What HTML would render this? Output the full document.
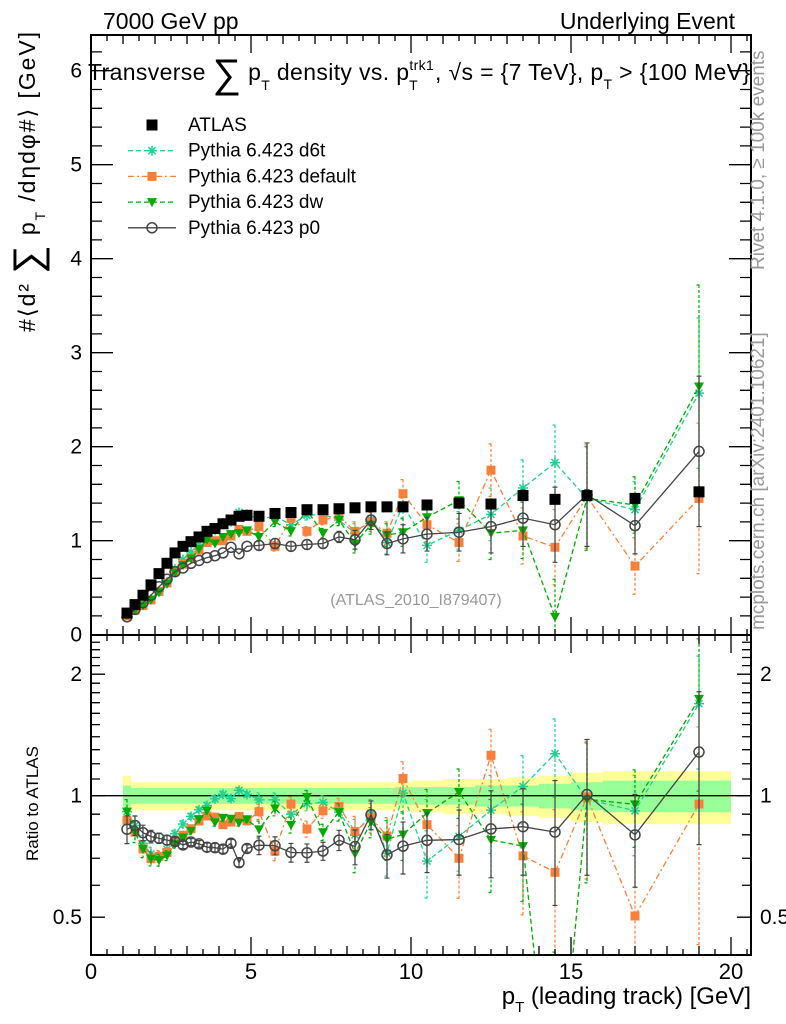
<!DOCTYPE html>
<html><head><meta charset="utf-8"><style>
html,body{margin:0;padding:0;background:#fff;overflow:hidden;width:786px;height:1024px;}
svg{display:block;font-family:"Liberation Sans",sans-serif;}
</style></head><body>
<svg id="chart" width="786" height="1024" viewBox="0 0 786 1024" xmlns="http://www.w3.org/2000/svg">
<defs>
<clipPath id="clipMain"><rect x="91" y="35" width="660" height="600"/></clipPath>
<clipPath id="clipRatio"><rect x="91" y="635" width="660" height="320"/></clipPath>
</defs>
<text x="103" y="29" font-size="23">7000 GeV pp</text>
<text x="735" y="29" font-size="23" text-anchor="end">Underlying Event</text>
<g id="bands" clip-path="url(#clipRatio)"></g>
<g id="marks"></g>
<g id="axes"></g>
<text x="88" y="80" font-size="23" textLength="662" lengthAdjust="spacing">Transverse <tspan font-size="40" dy="7">∑</tspan><tspan dy="-7"> p</tspan><tspan font-size="14" dy="10">T</tspan><tspan dy="-10"> density vs. p</tspan><tspan font-size="14" dy="-10">trk1</tspan><tspan font-size="14" dx="-25" dy="20">T</tspan><tspan dx="17" dy="-10">, √s = {7 TeV}, p</tspan><tspan font-size="14" dy="9">T</tspan><tspan dy="-9"> &gt; {100 MeV}</tspan></text>
<text transform="translate(35,332) rotate(-90)" font-size="23" textLength="300" lengthAdjust="spacing">#⟨d² <tspan font-size="40" dy="6">∑</tspan><tspan dy="-6"> p</tspan><tspan font-size="14" dy="10">T</tspan><tspan dy="-10"> /dηdφ#⟩ [GeV]</tspan></text>
<text transform="translate(38,861) rotate(-90)" font-size="17">Ratio to ATLAS</text>
<text x="751" y="1004" font-size="24" text-anchor="end">p<tspan font-size="15" dy="8">T</tspan><tspan dy="-8"> (leading track) [GeV]</tspan></text>
<text x="416" y="605" font-size="16" fill="#999" text-anchor="middle">(ATLAS_2010_I879407)</text>
<text transform="translate(764,270) rotate(-90)" font-size="19" fill="#999">Rivet 4.1.0, ≥ 100k events</text>
<text transform="translate(764,630) rotate(-90)" font-size="19" fill="#999">mcplots.cern.ch [arXiv:2401.10621]</text>
<g id="legend"></g>
</svg>
<script>
const xVals = [1.125,1.375,1.625,1.875,2.125,2.375,2.625,2.875,3.125,3.375,3.625,3.875,4.125,4.375,4.625,4.875,5.25,5.75,6.25,6.75,7.25,7.75,8.25,8.75,9.25,9.75,10.5,11.5,12.5,13.5,14.5,15.5,17,19];
const binWidths = [0.25,0.25,0.25,0.25,0.25,0.25,0.25,0.25,0.25,0.25,0.25,0.25,0.25,0.25,0.25,0.25,0.5,0.5,0.5,0.5,0.5,0.5,0.5,0.5,0.5,0.5,1,1,1,1,1,1,2,2];
const atlas = [0.23,0.32,0.42,0.53,0.65,0.76,0.87,0.94,0.99,1.04,1.10,1.13,1.18,1.22,1.26,1.27,1.26,1.29,1.30,1.33,1.33,1.34,1.35,1.36,1.36,1.36,1.38,1.40,1.39,1.48,1.44,1.48,1.45,1.52];
const d6t = [0.21,0.27,0.32,0.38,0.46,0.56,0.70,0.80,0.88,0.96,1.04,1.11,1.19,1.20,1.30,1.28,1.23,1.26,1.17,1.27,1.28,1.22,1.08,1.23,0.98,1.38,0.95,1.11,1.28,1.56,1.83,1.45,1.33,2.57];
const pdefault = [0.20,0.26,0.31,0.37,0.46,0.55,0.67,0.75,0.82,0.90,0.98,1.00,1.00,1.05,1.12,1.10,1.15,0.94,1.24,1.10,1.22,1.26,1.10,1.20,1.08,1.50,1.17,0.98,1.75,1.05,0.93,1.47,0.73,1.45];
const dw = [0.21,0.26,0.31,0.37,0.45,0.54,0.66,0.74,0.81,0.91,1.01,0.97,1.04,1.07,1.08,1.11,1.04,1.20,1.10,1.32,1.08,1.22,0.97,1.17,1.06,1.09,1.25,1.43,1.08,1.11,0.19,1.45,1.38,2.64];
const p0 = [0.19,0.27,0.34,0.42,0.51,0.59,0.67,0.71,0.76,0.79,0.82,0.84,0.87,0.93,0.86,0.94,0.95,0.97,0.94,0.96,0.97,1.04,1.01,1.22,0.97,1.02,1.07,1.09,1.15,1.24,1.17,1.49,1.16,1.95];
const mcErr = [0.015,0.015,0.015,0.015,0.015,0.015,0.015,0.015,0.015,0.015,0.02,0.02,0.02,0.02,0.02,0.02,0.05,0.05,0.05,0.05,0.05,0.06,0.1,0.1,0.12,0.15,0.18,0.2,0.28,0.3,0.4,0.55,0.3,0.8];
const totUnc = [0.12,0.08,0.08,0.08,0.08,0.08,0.08,0.08,0.08,0.08,0.08,0.08,0.08,0.08,0.08,0.08,0.08,0.08,0.08,0.08,0.08,0.08,0.08,0.08,0.08,0.08,0.09,0.1,0.1,0.11,0.12,0.14,0.15,0.15];
const statUnc = [0.06,0.045,0.045,0.045,0.045,0.045,0.045,0.045,0.045,0.045,0.045,0.045,0.045,0.045,0.045,0.045,0.045,0.045,0.045,0.045,0.045,0.045,0.045,0.045,0.045,0.05,0.05,0.05,0.06,0.06,0.07,0.08,0.09,0.09];
const yTickLabels = ["0","1","2","3","4","5","6"];
const xTickLabels = ["0","5","10","15","20"];
const ratioTickLabels = ["0.5","1","2"];

const NS="http://www.w3.org/2000/svg";
const L=91,R=751,T=35,MID=635,B=955;
const xs=v=>L+v*32;
const ys=v=>634.7-94*v;
const yr=v=>795.7-121.5*Math.log2(v);
function mk(tag,attrs,parent){const e=document.createElementNS(NS,tag);for(const k in attrs)e.setAttribute(k,attrs[k]);parent.appendChild(e);return e;}
const bands=document.getElementById('bands'),marks=document.getElementById('marks'),axes=document.getElementById('axes'),legend=document.getElementById('legend');

xVals.forEach((x,i)=>{
  const x0=xs(x-binWidths[i]/2),x1=xs(x+binWidths[i]/2);
  const y=mk('rect',{x:x0,y:yr(1+totUnc[i]),width:x1-x0,height:yr(1-totUnc[i])-yr(1+totUnc[i]),fill:'#ffff99'},bands);
  
  
  const g=mk('rect',{x:x0,y:yr(1+statUnc[i]),width:x1-x0,height:yr(1-statUnc[i])-yr(1+statUnc[i]),fill:'#99ff99'},bands);
  
  
});
const one=mk('line',{x1:L,x2:R,y1:yr(1),y2:yr(1),stroke:'#000','stroke-width':1.3},bands);



function marker(type,cx,cy,color,parent){
  let e;
  if(type==='sq'){e=mk('rect',{x:cx-5.5,y:cy-5.5,width:11,height:11,fill:color},parent);}
  else if(type==='osq'){e=mk('rect',{x:cx-4.5,y:cy-4.5,width:9,height:9,fill:color},parent);}
  else if(type==='tri'){e=mk('path',{d:`M${cx-5},${cy-4}L${cx+5},${cy-4}L${cx},${cy+5}Z`,fill:color},parent);}
  else if(type==='star'){e=mk('path',{d:`M${cx-5},${cy}H${cx+5}M${cx},${cy-5}V${cy+5}M${cx-3.5},${cy-3.5}L${cx+3.5},${cy+3.5}M${cx-3.5},${cy+3.5}L${cx+3.5},${cy-3.5}`,stroke:color,'stroke-width':1.5,fill:'none'},parent);}
  else {e=mk('circle',{cx:cx,cy:cy,r:5,fill:'none',stroke:color,'stroke-width':1.5},parent);}
  return e;
}
const series=[
 {name:'d6t',vals:d6t,color:'#20d090',dash:'5,3',m:'star',label:'Pythia 6.423 d6t'},
 {name:'default',vals:pdefault,color:'#f7803c',dash:'6,3,2,3',m:'osq',label:'Pythia 6.423 default'},
 {name:'dw',vals:dw,color:'#00aa00',dash:'5,3',m:'tri',label:'Pythia 6.423 dw'},
 {name:'p0',vals:p0,color:'#444',dash:'none',m:'circ',label:'Pythia 6.423 p0'}
];
const gMain=mk('g',{'clip-path':'url(#clipMain)'},marks);
const gRat=mk('g',{'clip-path':'url(#clipRatio)'},marks);
series.forEach(s=>{
  [[gMain,(v,i)=>ys(v)],[gRat,(v,i)=>yr(v/atlas[i])]].forEach(([par,fy])=>{
    const g=mk('g',{},par);
    
    
    const pts=s.vals.map((v,i)=>xs(xVals[i])+','+fy(v,i)).join(' ');
    mk('polyline',{points:pts,fill:'none',stroke:s.color,'stroke-width':1.3,'stroke-dasharray':s.dash},g);
    s.vals.forEach((v,i)=>{
      const e=mcErr[i]*(s.name==='dw'&&i===33?1.35:1);
      const cx=xs(xVals[i]),y1=fy(v+e,i),y2=fy(Math.max(v-e,0.001),i);
      if(y2-y1>4){
        mk('path',{d:`M${cx},${y1}V${y2}M${cx-2.5},${y1}H${cx+2.5}M${cx-2.5},${y2}H${cx+2.5}`,stroke:s.color,'stroke-width':1.2,'stroke-dasharray':s.dash==='none'?'none':'3,2',fill:'none'},g);
      }
      const m=marker(s.m,cx,fy(v,i),s.color,g);
      
      
    });
  });
});
xVals.forEach((x,i)=>{
  const m=marker('sq',xs(x),ys(atlas[i]),'#000',gMain);
  
  
});

[[T,MID],[MID,B]].forEach(([t,b])=>{
  const r=mk('rect',{x:L,y:t,width:R-L,height:b-t,fill:'none',stroke:'#000','stroke-width':2},axes);
  
  
  for(let v=0;v<=20.5;v+=0.5){
    const major=Math.abs(v%5)<1e-6, mid=Math.abs(v%1)<1e-6;
    const len=major?18:(mid?9:6);
    mk('path',{d:`M${xs(v)},${b}v${-len}M${xs(v)},${t}v${len}`,stroke:'#000','stroke-width':1.3},axes);
  }
});
for(let k=0;k<=31;k++){const v=k*0.2;const y=ys(v);if(y<T)break;const major=k%5===0;const len=major?22:11;
  mk('path',{d:`M${L},${y}h${len}M${R},${y}h${-len}`,stroke:'#000','stroke-width':1.3},axes);}
yTickLabels.forEach((lab,i)=>{const t=mk('text',{x:82,y:ys(i)+7,'font-size':21,'text-anchor':'end'},axes);t.textContent=lab;
  
  });
for(let k=4;k<=25;k++){const v=k/10;const y=yr(v);if(y<MID||y>B)continue;const major=(k===5||k===10||k===20);const len=major?14:9;
  mk('path',{d:`M${L},${y}h${len}M${R},${y}h${-len}`,stroke:'#000','stroke-width':1.3},axes);}
ratioTickLabels.forEach(lab=>{const v=parseFloat(lab);
  const t=mk('text',{x:82,y:yr(v)+7,'font-size':21,'text-anchor':'end'},axes);t.textContent=lab;
  
  
  const t2=mk('text',{x:760,y:yr(v)+7,'font-size':21},axes);t2.textContent=lab;
  
  });
xTickLabels.forEach(lab=>{const t=mk('text',{x:xs(parseFloat(lab)),y:979,'font-size':22,'text-anchor':'middle'},axes);t.textContent=lab;
  
  });

const legItems=[{m:'sq',color:'#000',dash:null,label:'ATLAS'}].concat(series.map(s=>({m:s.m,color:s.color,dash:s.dash,label:s.label})));
legItems.forEach((it,i)=>{
  const y=125+i*25.7;
  const g=mk('g',{},legend);
  
  
  if(it.dash!==null) mk('line',{x1:128,x2:176,y1:y,y2:y,stroke:it.color,'stroke-width':1.3,'stroke-dasharray':it.dash},g);
  marker(it.m,152,y,it.color,g);
  const t=mk('text',{x:188,y:y+6,'font-size':19},g);t.textContent=it.label;
});
</script>
</body></html>
